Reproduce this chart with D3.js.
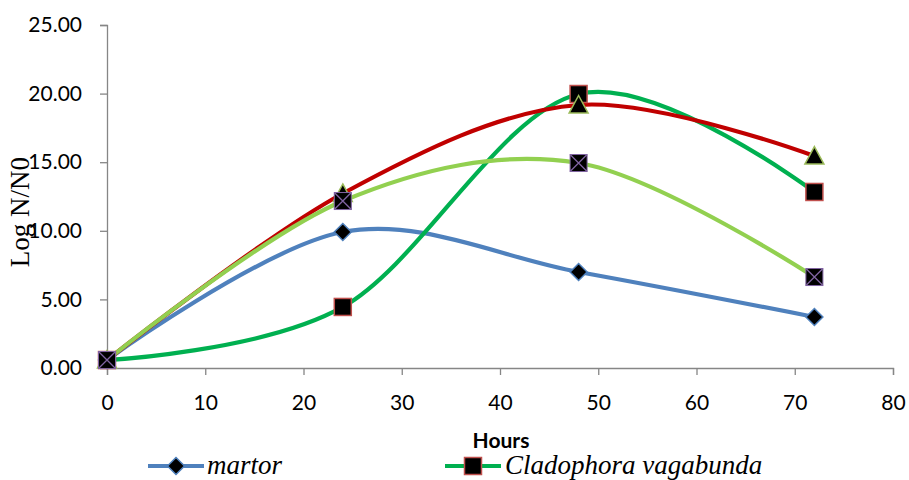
<!DOCTYPE html>
<html>
<head>
<meta charset="utf-8">
<script src="https://cdn.jsdelivr.net/npm/d3@7"></script>
<style>
  html, body { margin: 0; padding: 0; background: #fff; }
  svg { display: block; }
</style>
</head>
<body>
<svg id="chart" width="909" height="480"></svg>
<script>
// Sampling times (hours)
const hours = [0, 24, 48, 72];

// Log N/N0 per treatment
const martor = [0.58, 9.91, 7.00, 3.72];
const cladophora = [0.58, 4.45, 19.97, 12.83];
const series3 = [0.58, 12.72, 19.17, 15.45];
const series4 = [0.58, 12.17, 14.94, 6.63];

const seriesNames = ["martor", "Cladophora vagabunda", "", ""];
const xTicks = [0, 10, 20, 30, 40, 50, 60, 70, 80];
const yTicks = [0, 5, 10, 15, 20, 25];

const svg = d3.select("#chart");
const x = d3.scaleLinear().domain([0, 80]).range([107, 893]);
const y = d3.scaleLinear().domain([0, 25]).range([368, 25]);

const axisColor = "#868686";
const tickFont = "Lato, 'Open Sans', sans-serif";

// Y axis
const yAxis = d3.axisLeft(y).tickValues(yTicks).tickFormat(d3.format(".2f")).tickSize(7).tickPadding(18);
const gy = svg.append("g").attr("transform", "translate(107,0)").call(yAxis);
gy.select(".domain").attr("stroke", axisColor).attr("stroke-width", 1.3);
gy.selectAll(".tick line").attr("stroke", axisColor).attr("stroke-width", 1.3);
gy.selectAll(".tick text").attr("fill", "#000").style("font-family", tickFont).style("font-size", "21px");

// X axis
const xAxis = d3.axisBottom(x).tickValues(xTicks).tickSize(7).tickPadding(20);
const gx = svg.append("g").attr("transform", "translate(0,368)").call(xAxis);
gx.select(".domain").attr("stroke", axisColor).attr("stroke-width", 1.3);
gx.selectAll(".tick line").attr("stroke", axisColor).attr("stroke-width", 1.3);
gx.selectAll(".tick text").attr("fill", "#000").style("font-family", tickFont).style("font-size", "21px");

// Axis titles
svg.append("text")
  .attr("x", 501).attr("y", 448)
  .attr("text-anchor", "middle")
  .style("font-family", tickFont).style("font-weight", "bold").style("font-size", "21px")
  .text("Hours");

svg.append("text")
  .attr("transform", "translate(29,212) rotate(-90)")
  .attr("text-anchor", "middle")
  .style("font-family", "'Liberation Serif', 'DejaVu Serif', serif").style("font-size", "27px")
  .text("Log N/N0");

// Smoothed lines
const line = d3.line()
  .x((d, i) => x(hours[i]))
  .y(d => y(d))
  .curve(d3.curveCardinal.tension(0));

const lineSeries = [
  { values: martor, color: "#4F81BD" },
  { values: cladophora, color: "#00B050" },
  { values: series3, color: "#C00000" },
  { values: series4, color: "#92D050" }
];

lineSeries.forEach(s => {
  svg.append("path")
    .attr("d", line(s.values))
    .attr("fill", "none")
    .attr("stroke", s.color)
    .attr("stroke-width", 4.2)
    .attr("stroke-linejoin", "round");
});

// Markers
function diamond(g, cx, cy, r) {
  g.append("path")
    .attr("d", `M${cx},${cy - r}L${cx + r},${cy}L${cx},${cy + r}L${cx - r},${cy}Z`)
    .attr("fill", "#000").attr("stroke", "#4F81BD").attr("stroke-width", 1.5);
}
function square(g, cx, cy, r) {
  g.append("rect")
    .attr("x", cx - r).attr("y", cy - r).attr("width", 2 * r).attr("height", 2 * r)
    .attr("fill", "#000").attr("stroke", "#C0504D").attr("stroke-width", 1.5);
}
function triangle(g, cx, cy, r) {
  g.append("path")
    .attr("d", `M${cx},${cy - r}L${cx + r},${cy + r * 0.85}L${cx - r},${cy + r * 0.85}Z`)
    .attr("fill", "#000").attr("stroke", "#9BBB59").attr("stroke-width", 1.5);
}
function cross(g, cx, cy, r) {
  g.append("rect")
    .attr("x", cx - r).attr("y", cy - r).attr("width", 2 * r).attr("height", 2 * r)
    .attr("fill", "#000").attr("stroke", "#8064A2").attr("stroke-width", 1);
  g.append("path")
    .attr("d", `M${cx - r},${cy - r}L${cx + r},${cy + r}M${cx + r},${cy - r}L${cx - r},${cy + r}`)
    .attr("stroke", "#8064A2").attr("stroke-width", 1.3);
}

const mk = svg.append("g");
martor.forEach((v, i) => diamond(mk, x(hours[i]), y(v), 8.5));
cladophora.forEach((v, i) => square(mk, x(hours[i]), y(v), 8.5));
series3.forEach((v, i) => triangle(mk, x(hours[i]), y(v), 9.5));
series4.forEach((v, i) => cross(mk, x(hours[i]), y(v), 8.5));

// Legend
const legendFont = "'Liberation Serif', 'DejaVu Serif', serif";
const lg = svg.append("g");
lg.append("line").attr("x1", 148).attr("x2", 204).attr("y1", 466).attr("y2", 466)
  .attr("stroke", "#4F81BD").attr("stroke-width", 4.2);
diamond(lg, 176, 466, 8.5);
lg.append("text").attr("x", 207).attr("y", 474)
  .style("font-family", legendFont).style("font-style", "italic").style("font-size", "27px")
  .text(seriesNames[0]);

lg.append("line").attr("x1", 445).attr("x2", 501).attr("y1", 466).attr("y2", 466)
  .attr("stroke", "#00B050").attr("stroke-width", 4.2);
square(lg, 473, 466, 8.5);
lg.append("text").attr("x", 505).attr("y", 474)
  .style("font-family", legendFont).style("font-style", "italic").style("font-size", "27px")
  .text(seriesNames[1]);
</script>
</body>
</html>
